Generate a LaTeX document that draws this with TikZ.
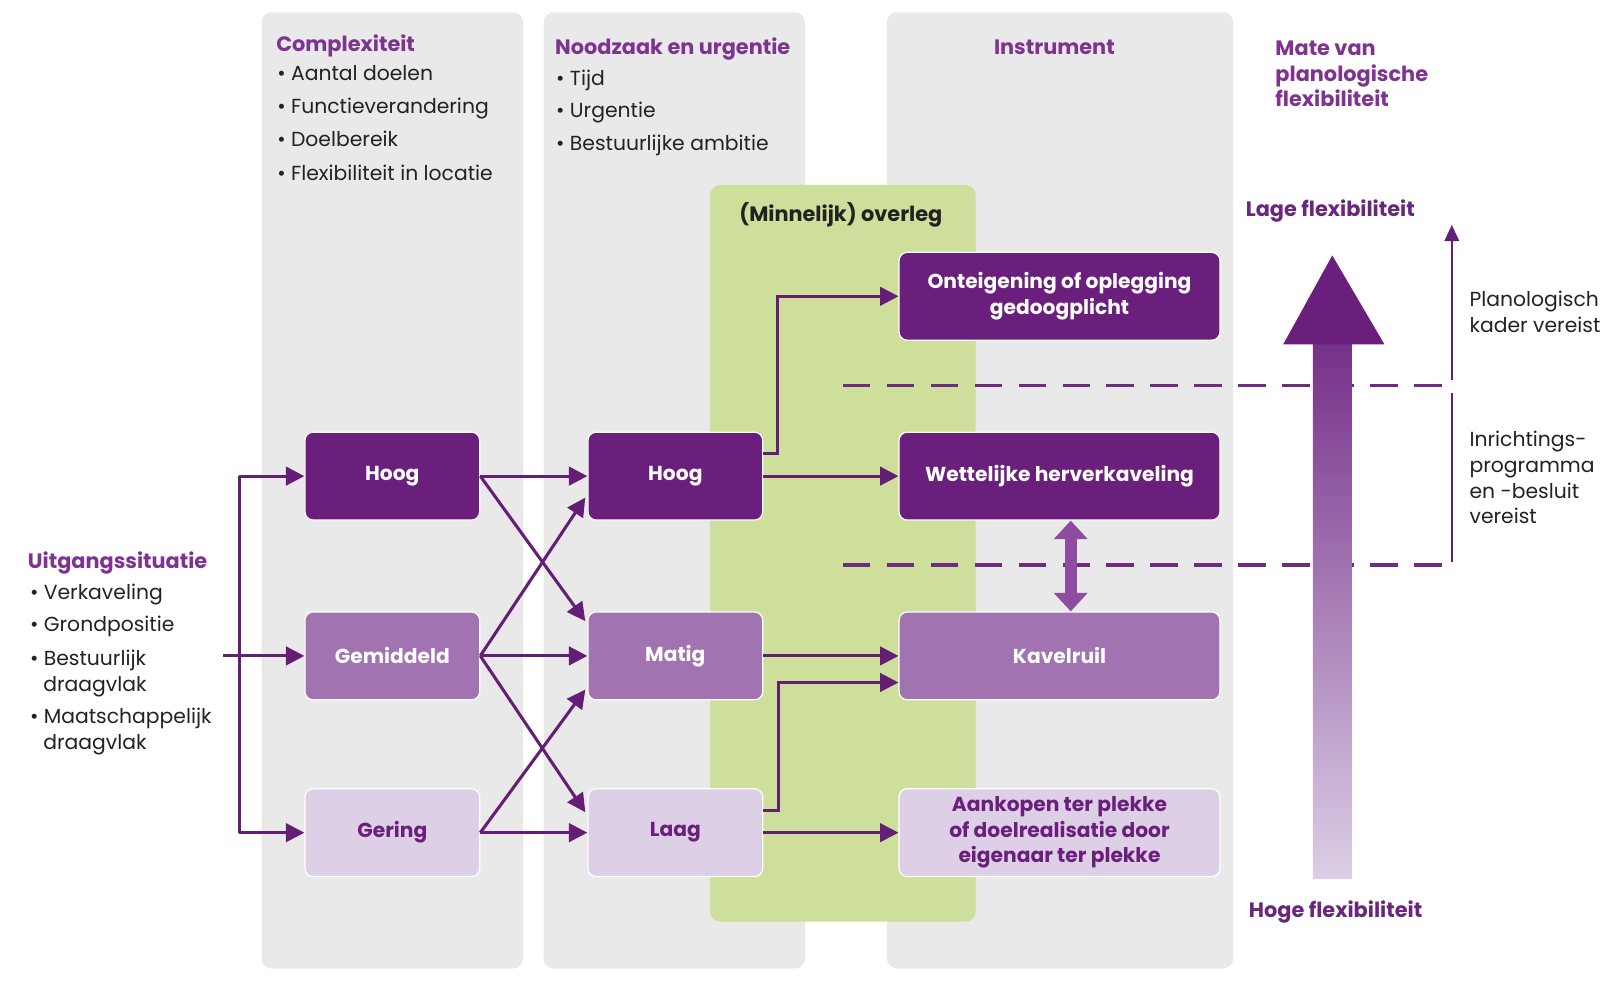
\documentclass[tikz,border=0pt]{standalone}
\usepackage{fontspec}
\setmainfont{Poppins}
\usetikzlibrary{arrows.meta,calc}
\definecolor{panelgrey}{HTML}{E9E9E9}
\definecolor{greenbg}{HTML}{CEDE9B}
\definecolor{dpurple}{HTML}{6B1F7D}
\definecolor{mpurple}{HTML}{A173B0}
\definecolor{lpurple}{HTML}{DDCFE6}
\definecolor{headc}{HTML}{7F3391}
\definecolor{darkhead}{HTML}{6A267C}
\definecolor{linec}{HTML}{651E76}
\definecolor{dashc}{HTML}{6E2C80}
\definecolor{dblc}{HTML}{8D4C9F}
\definecolor{arrtop}{HTML}{763089}
\definecolor{arrbot}{HTML}{DCCFE6}
\definecolor{txtc}{HTML}{222222}
\newcommand\bodyfont{\fontsize{9.95}{11}\selectfont}
\newcommand\boldfont{\fontsize{10.2}{12.5}\selectfont\bfseries}
\newcommand\boxfont{\fontsize{9.9}{12.5}\selectfont\bfseries}
\begin{document}
\begin{tikzpicture}[x=0.5pt,y=-0.5pt,
  panel/.style={fill=panelgrey, rounded corners=5pt},
  box/.style={rounded corners=4pt, minimum width=85.5pt, minimum height=43pt,
    draw=white, line width=0.6pt, font=\boxfont, align=center, inner sep=0pt},
  darkbox/.style={box, fill=dpurple, text=white},
  midbox/.style={box, fill=mpurple, text=white},
  lightbox/.style={box, fill=lpurple, text=dpurple},
  widebox/.style={minimum width=157pt},
  conn/.style={draw=linec, line width=1.5pt, -{Triangle[length=9pt,width=9pt]}},
  plain/.style={draw=linec, line width=1.5pt},
  dashline/.style={draw=dashc, line width=1.5pt, dash pattern=on 13.5pt off 8pt},
  txt/.style={anchor=mid west, inner sep=0pt, font=\bodyfont, text=txtc},
  head/.style={anchor=mid west, inner sep=0pt, font=\boldfont, text=headc},
  dbl/.style={draw=dblc, line width=6pt, {Triangle[length=9pt,width=16pt]}-{Triangle[length=9pt,width=16pt]}}
]
\useasboundingbox (0,0) rectangle (1568,978);
% panels
\fill[panel] (256,12) rectangle (512,948);
\fill[panel] (532,12) rectangle (788,948);
\fill[panel] (868,12) rectangle (1207,948);
\fill[greenbg, rounded corners=5pt] (695,181) rectangle (955,902);

% dashed lines
\draw[dashline] (825,377) -- (1420,377);
\draw[dashline] (825,553) -- (1420,553);

% headers
\node[head] (hc) at (270,45) {Complexiteit};
\foreach \t/\y [count=\i] in {Aantal doelen/73, Functieverandering/106, Doelbereik/138, Flexibiliteit in locatie/171}
  \node[txt] (cl\i) at (271,\y) {• \t};
\node[head] (hn) at (543,48) {Noodzaak en urgentie};
\foreach \t/\y [count=\i] in {Tijd/78, Urgentie/110, Bestuurlijke ambitie/142}
  \node[txt] (nl\i) at (544,\y) {• \t};
\node[head, anchor=mid] (hi) at (1032,48) {Instrument};
\foreach \t/\y [count=\i] in {Mate van/49, planologische/74, flexibiliteit/99}
  \node[head] (hm\i) at (1248,\y) {\t};
\node[font=\boldfont, text=txtc, inner sep=0pt] (ovl) at (823,210) {(Minnelijk) overleg};
\node[head, text=darkhead] (lage) at (1219,206) {Lage flexibiliteit};
\node[head, text=darkhead] (hoge) at (1222,893) {Hoge flexibiliteit};

% left text
\node[head] (uit) at (27,551) {Uitgangssituatie};
\foreach \t/\x/\y [count=\i] in {• Verkaveling/29/581, • Grondpositie/29/613, • Bestuurlijk/29/646, draagvlak/42/671, • Maatschappelijk/29/703, draagvlak/42/728}
  \node[txt] (ul\i) at (\x,\y) {\t};

% right text
\foreach \t/\y [count=\i] in {Planologisch/295, kader vereist/320, Inrichtings-/432, programma/457, en -besluit/482, vereist/507}
  \node[txt] (rl\i) at (1438,\y) {\t};

% boxes
\node[darkbox] (h1) at (384,466) {Hoog};
\node[midbox] (gem) at (384,642) {Gemiddeld};
\node[lightbox] (ger) at (384,815) {Gering};
\node[darkbox] (h2) at (661,466) {Hoog};
\node[midbox] (m2) at (661,642) {Matig};
\node[lightbox] (l2) at (661,815) {Laag};
\node[darkbox, widebox] (ont) at (1037,290) {Onteigening of oplegging\\gedoogplicht};
\node[darkbox, widebox] (wet) at (1037,466) {Wettelijke herverkaveling};
\node[midbox, widebox] (kav) at (1037,642) {Kavelruil};
\node[lightbox, widebox] (aan) at (1037,815) {Aankopen ter plekke\\of doelrealisatie door\\eigenaar ter plekke};

% input connectors
\coordinate (in) at (218,642);
\coordinate (bus) at (234,642);
\draw[plain] (bus |- h1.west) -- (bus |- ger.west);
\draw[conn] (bus |- h1.west) -- (h1.west);
\draw[conn] (bus |- ger.west) -- (ger.west);
\draw[conn] (in) -- (gem.west);

% column 1 -> column 2
\draw[conn] (h1.east) -- (h2.west);
\draw[conn] (gem.east) -- (m2.west);
\draw[conn] (ger.east) -- (l2.west);
\draw[conn] (h1.east) -- ($(m2.west)+(-2,-34)$);
\draw[conn] (gem.east) -- ($(h2.west)+(-2,21)$);
\draw[conn] (gem.east) -- ($(l2.west)+(-2,-20)$);
\draw[conn] (ger.east) -- ($(m2.west)+(-2,33)$);

% column 2 -> instruments
\draw[conn] ($(h2.east)+(0,-22)$) -- ++(14,0) |- (ont.west);
\draw[conn] (h2.east) -- (wet.west);
\draw[conn] (m2.east) -- (kav.west);
\draw[conn] ($(l2.east)+(0,-22)$) -- ++(15,0) |- ($(kav.west)+(0,26)$);
\draw[conn] (l2.east) -- (aan.west);

% double arrow
\coordinate (dblx) at (1048,0);
\draw[dbl] (wet.south -| dblx) -- (kav.north -| dblx);

% big gradient arrow
\shade[top color=arrtop, bottom color=arrbot] (1285,335) rectangle (1323,860);
\fill[dpurple] (1256,337) -- (1304,250) -- (1355,337) -- cycle;

% right bracket arrow
\draw[draw=linec, line width=1.3pt, -{Triangle[length=8pt,width=7pt]}] (1421,372) -- (1421,220);
\draw[draw=linec, line width=1.3pt] (1421,385) -- (1421,550);
\end{tikzpicture}
\end{document}
